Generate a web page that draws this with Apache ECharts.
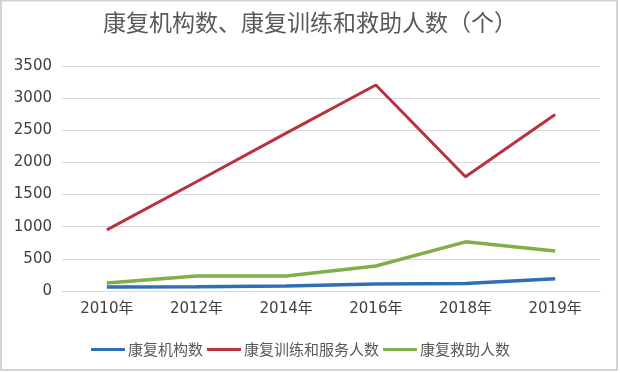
<!DOCTYPE html>
<html><head><meta charset="utf-8">
<script src="https://cdn.jsdelivr.net/npm/echarts@6/dist/echarts.min.js"></script>
<style>html,body{margin:0;padding:0;background:#fff}#c{width:620px;height:373px}</style>
</head><body><div id="c"></div>
<script>
var title = '康复机构数、康复训练和救助人数（个）';
var categories = ['2010年','2012年','2014年','2016年','2018年','2019年'];
var seriesNames = ['康复机构数','康复训练和服务人数','康复救助人数'];
var institutions = [62, 66, 78, 110, 115, 190];
var trainingServed = [950, 1700, 2455, 3205, 1778, 2745];
var aidRecipients = [125, 233, 233, 389, 765, 622];
var yTicks = [0, 500, 1000, 1500, 2000, 2500, 3000, 3500];

var colors = ['#2f6fb3', '#b8323f', '#80ae48'];
var font = 'DejaVu Sans, Noto Sans CJK SC';
var chart = echarts.init(document.getElementById('c'), null, {renderer:'canvas'});
chart.setOption({
  backgroundColor: '#fff',
  animation: false,
  color: colors,
  graphic: [{type:'rect', shape:{x:1, y:0.5, width:616, height:369.5}, style:{fill:'none', stroke:'#d4d4d4', lineWidth:2}, silent:true}],
  title: {text: title, left: 'center', top: 6, textStyle:{fontFamily:'Noto Sans CJK SC', fontSize:23, fontWeight:'normal', color:'#595959'}},
  legend: {data: seriesNames, left: 86, top: 337, itemWidth: 34, itemHeight: 3, itemGap: 4,
    icon: 'rect',
    textStyle:{fontFamily:'Noto Sans CJK SC', fontSize:15, color:'#595959', padding:[0,0,0,-2]}},
  grid: {left: 62, right: 20, top: 66, bottom: 82},
  xAxis: {type:'category', data: categories, boundaryGap: true,
    axisLine:{lineStyle:{color:'#d9d9d9', width:1}}, axisTick:{show:false},
    axisLabel:{fontFamily:font, fontSize:15, color:'#404040', margin:11}},
  yAxis: {type:'value', min: yTicks[0], max: yTicks[yTicks.length-1], interval: 500,
    axisLine:{show:false}, axisTick:{show:false},
    splitLine:{lineStyle:{color:'#d9d9d9', width:1}},
    axisLabel:{fontFamily:font, fontSize:15, color:'#404040', margin:10, formatter: function(v){return String(v);}}},
  series: [
    {name: seriesNames[0], type:'line', data: institutions, symbol:'none', lineStyle:{width:3.5}},
    {name: seriesNames[1], type:'line', data: trainingServed, symbol:'none', lineStyle:{width:3}},
    {name: seriesNames[2], type:'line', data: aidRecipients, symbol:'none', lineStyle:{width:3.5}}
  ]
});
</script></body></html>
